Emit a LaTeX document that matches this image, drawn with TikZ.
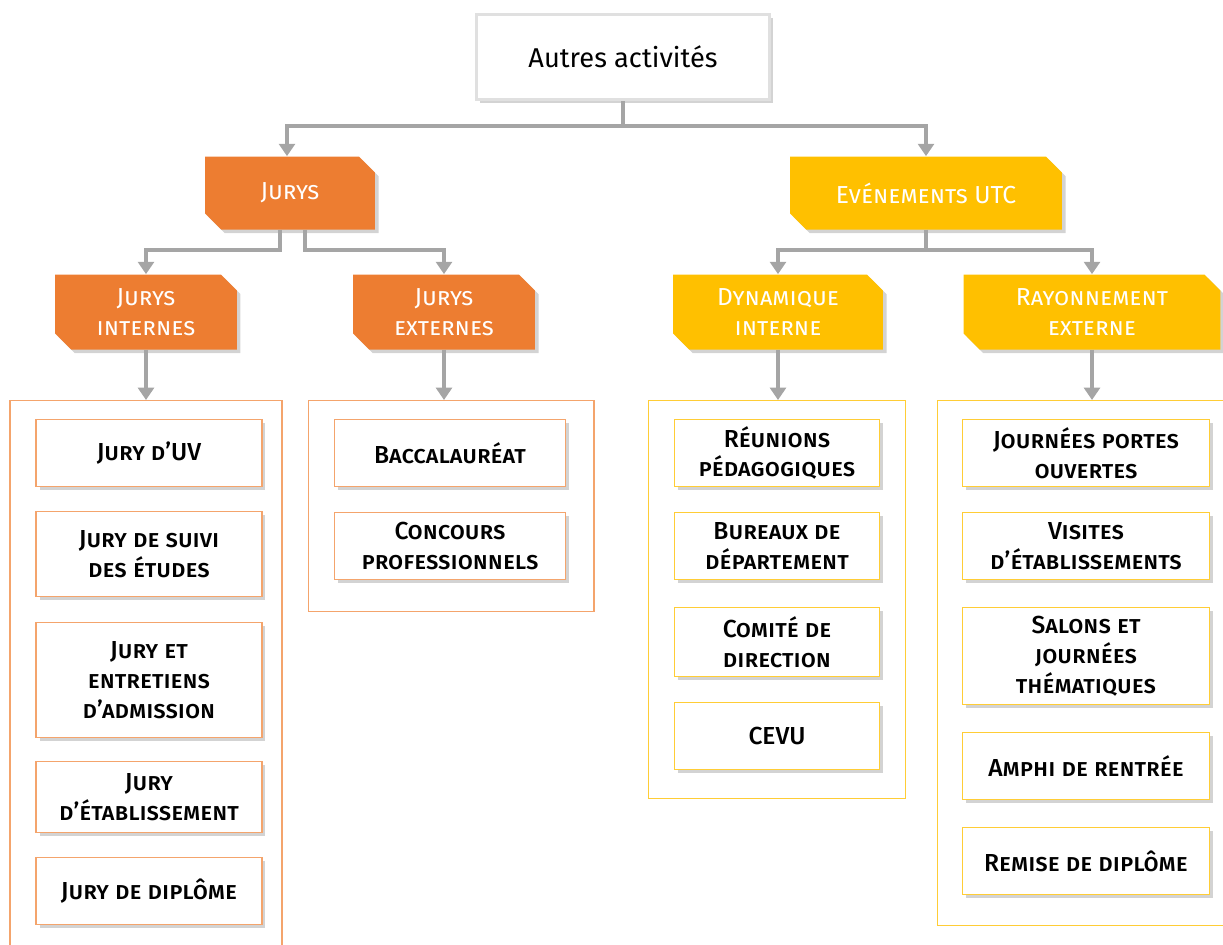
\documentclass[tikz,border=0pt]{standalone}
\usepackage{fontspec}
\setsansfont{Fira Sans}[UprightFont={* Medium}]
\newfontfamily\lightsans{Fira Sans}
\renewcommand{\familydefault}{\sfdefault}
\usetikzlibrary{shapes.misc,shadows,arrows.meta}
\definecolor{utc_orange}{HTML}{ED7D31}
\definecolor{utc_yellow}{HTML}{FFC000}
\definecolor{line_gray}{HTML}{A5A5A5}
\definecolor{pale_orange}{HTML}{F4A46C}
\definecolor{pale_yellow}{HTML}{FFCD36}

\begin{document}
\begin{tikzpicture}[x=0.02cm,y=-0.02cm,>={Triangle[width=9pt,length=7pt]},
    font=\fontsize{14}{17}\selectfont\scshape,
    shade/.style={drop shadow={shadow xshift=2pt,shadow yshift=-2pt,opacity=0.35}},
    rootbox/.style={draw=black!12,line width=2pt,fill=white,shade,minimum width=5.86cm,minimum height=1.7cm,font=\fontsize{15.5}{18}\selectfont},
    catbox/.style={chamfered rectangle,chamfered rectangle corners={north east,south west},chamfered rectangle xsep=0.2cm,
      fill=#1,text=white,shade,align=center,inner sep=0pt,font=\fontsize{14}{17}\lightsans\scshape},
    subbox/.style={catbox=#1,minimum height=1.5cm},
    frame/.style={draw=#1,line width=0.6pt,anchor=north},
    leaf/.style={draw=#1,line width=0.9pt,fill=white,shade,align=center,minimum height=1.34cm},
    conn/.style={draw=line_gray,line width=2.2pt}]
  \useasboundingbox (0,0) rectangle (1223,944);

  \node[rootbox] (root) at (623,57) {\lightsans Autres activités};

  \node[catbox=utc_orange,minimum width=3.4cm,minimum height=1.46cm] (jurys) at (290,193) {Jurys};
  \node[catbox=utc_yellow,minimum width=5.44cm,minimum height=1.46cm] (evt) at (926,193) {Evénements UTC};

  \node[subbox=utc_orange,minimum width=3.64cm] (jint) at (146,312) {Jurys\\internes};
  \node[subbox=utc_orange,minimum width=3.64cm] (jext) at (444,312) {Jurys\\externes};
  \node[subbox=utc_yellow,minimum width=4.2cm] (dyn) at (778,312) {Dynamique\\interne};
  \node[subbox=utc_yellow,minimum width=5.14cm] (ray) at (1092,312) {Rayonnement\\externe};

  \node[frame=pale_orange,minimum width=5.44cm,minimum height=11.8cm] (cint) at (146,400) {};
  \node[frame=pale_orange,minimum width=5.72cm,minimum height=4.22cm] (cext) at (451,400) {};
  \node[frame=pale_yellow,minimum width=5.14cm,minimum height=7.96cm] (cdyn) at (777,400) {};
  \node[frame=pale_yellow,minimum width=5.96cm,minimum height=10.5cm] (cray) at (1086,400) {};

  \node[leaf=pale_orange,minimum width=4.52cm] (uv) at (149,453) {Jury d'UV};
  \node[leaf=pale_orange,minimum width=4.52cm,minimum height=1.7cm] (suivi) at (149,554) {Jury de suivi\\des études};
  \node[leaf=pale_orange,minimum width=4.52cm,minimum height=2.3cm] (admis) at (149,680) {Jury et\\entretiens\\d'admission};
  \node[leaf=pale_orange,minimum width=4.52cm,minimum height=1.42cm] (etab) at (149,797) {Jury\\d'établissement};
  \node[leaf=pale_orange,minimum width=4.52cm] (dipl) at (149,891) {Jury de diplôme};

  \node[leaf=pale_orange,minimum width=4.62cm] (bac) at (450,453) {Baccalauréat};
  \node[leaf=pale_orange,minimum width=4.62cm] (conc) at (450,546) {Concours\\professionnels};

  \node[leaf=pale_yellow,minimum width=4.1cm] (reun) at (777,453) {Réunions\\pédagogiques};
  \node[leaf=pale_yellow,minimum width=4.1cm] (bur) at (777,546) {Bureaux de\\département};
  \node[leaf=pale_yellow,minimum width=4.1cm,minimum height=1.38cm] (comite) at (777,642) {Comité de\\direction};
  \node[leaf=pale_yellow,minimum width=4.1cm] (cevu) at (777,736) {CEVU};

  \node[leaf=pale_yellow,minimum width=4.94cm] (jpo) at (1086,453) {Journées portes\\ouvertes};
  \node[leaf=pale_yellow,minimum width=4.94cm] (visit) at (1086,546) {Visites\\d'établissements};
  \node[leaf=pale_yellow,minimum width=4.94cm,minimum height=1.94cm] (salon) at (1086,656) {Salons et\\journées\\thématiques};
  \node[leaf=pale_yellow,minimum width=4.94cm] (amphi) at (1086,766) {Amphi de rentrée};
  \node[leaf=pale_yellow,minimum width=4.94cm] (remise) at (1086,861) {Remise de diplôme};

  \draw[conn,->] (root.south) -- ++(0,25) -| (287,0 |- jurys.north);
  \draw[conn,->] (root.south) -- ++(0,25) -| (evt.north);
  \draw[conn,->] (280,0 |- jurys.south) -- ++(0,20) -| (jint.north);
  \draw[conn,->] (305,0 |- jurys.south) -- ++(0,20) -| (jext.north);
  \draw[conn,->] (evt.south) -- ++(0,20) -| (dyn.north);
  \draw[conn,->] (evt.south) -- ++(0,20) -| (ray.north);
  \draw[conn,->] (jint.south) -- (jint.south |- cint.north);
  \draw[conn,->] (jext.south) -- (jext.south |- cext.north);
  \draw[conn,->] (dyn.south) -- (dyn.south |- cdyn.north);
  \draw[conn,->] (ray.south) -- (ray.south |- cray.north);
\end{tikzpicture}
\end{document}
